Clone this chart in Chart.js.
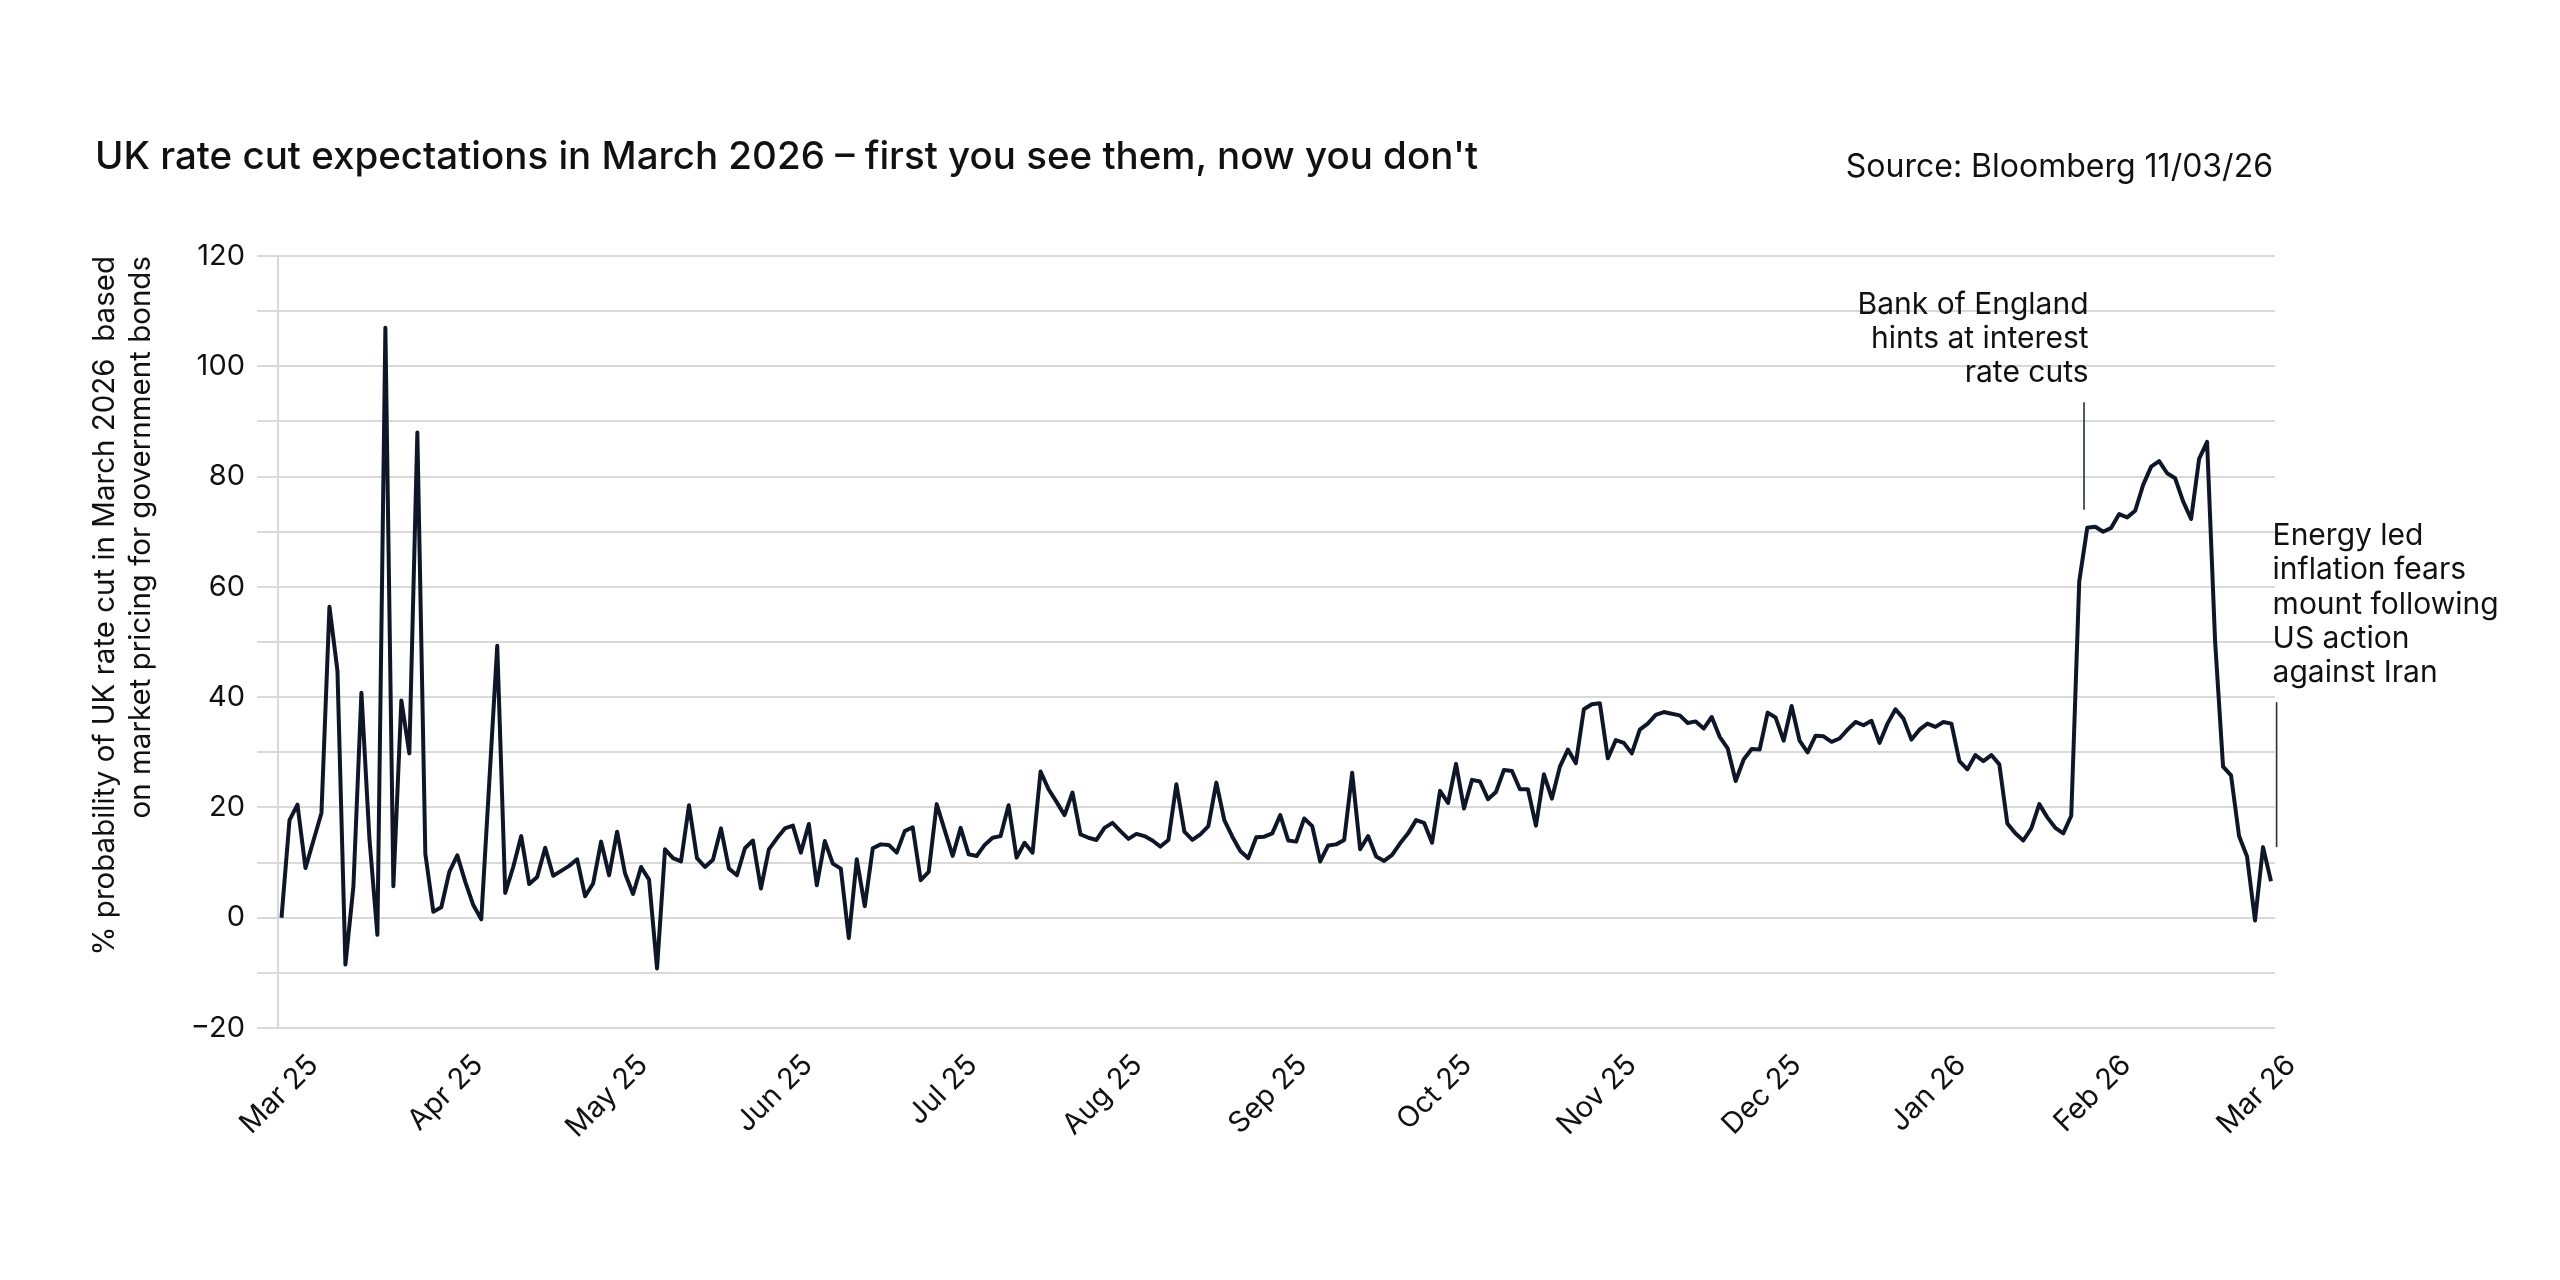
<!DOCTYPE html>
<html>
<head>
<meta charset="utf-8">
<script src="https://cdn.jsdelivr.net/npm/chart.js@4.4.1/dist/chart.umd.min.js"></script>
<style>
  html, body { margin: 0; padding: 0; background: #ffffff; }
  #wrap { position: relative; width: 2560px; height: 1280px; overflow: hidden; }
  #chart { position: absolute; left: 0; top: 0; }
  #title { position: absolute; left: 95px; top: 133px; font-family: Inter, sans-serif; font-weight: 500; font-size: 38.5px; color: #111111; white-space: nowrap; line-height: 44px; }
  #source { position: absolute; right: 287px; top: 147px; font-family: Inter, sans-serif; font-weight: 400; font-size: 32px; color: #111111; white-space: nowrap; line-height: 38px; }
</style>
</head>
<body>
<div id="wrap">
  <canvas id="chart" width="2560" height="1280"></canvas>
  <div id="title">UK rate cut expectations in March 2026 – first you see them, now you don't</div>
  <div id="source">Source: Bloomberg 11/03/26</div>
</div>
<script>
// ---- data ----
const monthLabels = ['Mar 25','Apr 25','May 25','Jun 25','Jul 25','Aug 25','Sep 25','Oct 25','Nov 25','Dec 25','Jan 26','Feb 26','Mar 26'];

const probability = [
  0, 17.7, 20.5, 9, 14, 19, 56.4, 44.8, -8.5, 5.7,
  40.8, 14.4, -3.1, 107, 5.7, 39.4, 29.8, 88, 11.6, 1.1,
  1.9, 8.3, 11.3, 6.5, 2.3, -0.3, 24.5, 49.3, 4.5, 9.2,
  14.8, 6.1, 7.4, 12.7, 7.6, 8.5, 9.4, 10.6, 3.9, 6.2,
  13.8, 7.7, 15.6, 8.0, 4.3, 9.2, 6.9, -9.2, 12.4, 10.8,
  10.2, 20.4, 10.8, 9.2, 10.5, 16.2, 8.9, 7.7, 12.6, 14.0,
  5.3, 12.4, 14.4, 16.2, 16.7, 11.8, 17.0, 5.9, 13.9, 9.8,
  8.9, -3.7, 10.6, 2.1, 12.6, 13.3, 13.2, 11.8, 15.7, 16.4,
  6.8, 8.3, 20.6, 15.9, 11.2, 16.3, 11.5, 11.2, 13.2, 14.5,
  14.8, 20.4, 10.9, 13.6, 11.8, 26.5, 23.3, 21.0, 18.6, 22.7,
  15.1, 14.5, 14.1, 16.3, 17.2, 15.7, 14.3, 15.2, 14.8, 14.0,
  12.9, 14.1, 24.2, 15.6, 14.1, 15.1, 16.6, 24.5, 17.7, 14.7,
  12.1, 10.8, 14.6, 14.7, 15.3, 18.6, 14.0, 13.8, 18.0, 16.6,
  10.2, 13.1, 13.3, 14.1, 26.3, 12.4, 14.8, 11.1, 10.3, 11.4,
  13.5, 15.3, 17.7, 17.2, 13.6, 23.0, 20.8, 27.9, 19.8, 25.0,
  24.7, 21.5, 22.8, 26.8, 26.6, 23.3, 23.3, 16.7, 26.0, 21.6,
  27.4, 30.5, 28.0, 37.8, 38.7, 38.9, 28.9, 32.2, 31.7, 29.8,
  34.1, 35.2, 36.8, 37.3, 37.0, 36.7, 35.3, 35.6, 34.3, 36.4,
  32.8, 30.7, 24.8, 28.7, 30.6, 30.5, 37.2, 36.3, 32.1, 38.4,
  32.1, 30.0, 33.0, 32.9, 31.9, 32.5, 34.1, 35.5, 34.9, 35.7,
  31.7, 35.2, 37.8, 36.1, 32.3, 34.1, 35.2, 34.6, 35.5, 35.2,
  28.4, 26.9, 29.5, 28.4, 29.5, 27.8, 17.1, 15.3, 14.0, 16.2,
  20.6, 18.2, 16.3, 15.3, 18.5, 61.0, 70.7, 70.9, 70.0, 70.7,
  73.2, 72.6, 73.8, 78.5, 81.8, 82.8, 80.6, 79.7, 75.5, 72.3,
  83.2, 86.3, 50.2, 27.4, 25.8, 14.8, 11.1, -0.5, 12.8, 6.6
];

const yAxisTitle = ['% probability of UK rate cut in March 2026  based', 'on market pricing for government bonds'];

const notes = [
  { lines: ['Bank of England', 'hints at interest', 'rate cuts'], x: 225.6, yTop: 93.5, yBottom: 74, align: 'right', dx: 4.5, dy: -88.6 },
  { lines: ['Energy led', 'inflation fears', 'mount following', 'US action', 'against Iran'], x: 249.7, yTop: 39.1, yBottom: 12.8, align: 'left', dx: -4, dy: -157 }
];

// ---- layout helpers (not data) ----
const X_MIN = -0.44, X_MAX = 249.5;
const FIRST_TICK = 2.0;
const monthTickPos = monthLabels.map((_, k) => FIRST_TICK + k * (X_MAX - FIRST_TICK) / (monthLabels.length - 1));

const FONT = 'Inter';
const INK = '#0e1628';
const GRID = '#d9d9d9';

const notesPlugin = {
  id: 'notes',
  afterDraw(chart) {
    const { ctx, scales: { x, y } } = chart;
    ctx.save();
    notes.forEach(n => {
      const px = x.getPixelForValue(n.x);
      const y1 = y.getPixelForValue(n.yTop);
      const y2 = y.getPixelForValue(n.yBottom);
      ctx.strokeStyle = '#2a2f3a';
      ctx.lineWidth = 1.6;
      ctx.beginPath();
      ctx.moveTo(px, y1);
      ctx.lineTo(px, y2);
      ctx.stroke();
      ctx.font = '400 30px ' + FONT;
      ctx.fillStyle = '#111111';
      ctx.textAlign = n.align;
      ctx.textBaseline = 'alphabetic';
      n.lines.forEach((t, k) => ctx.fillText(t, px + n.dx, y1 + n.dy + k * 34.3));
    });
    ctx.restore();
  }
};

new Chart(document.getElementById('chart'), {
  type: 'line',
  data: {
    datasets: [{
      data: probability.map((v, i) => ({ x: i, y: v })),
      borderColor: INK,
      borderWidth: 4,
      pointRadius: 0,
      tension: 0,
      fill: false,
      borderJoinStyle: 'round'
    }]
  },
  options: {
    responsive: false,
    animation: false,
    devicePixelRatio: 1,
    layout: { padding: { top: 256, left: 88, right: 285, bottom: 102 } },
    plugins: { legend: { display: false }, tooltip: { enabled: false } },
    scales: {
      x: {
        type: 'linear',
        min: X_MIN,
        max: X_MAX,
        afterBuildTicks(scale) { scale.ticks = monthTickPos.map(v => ({ value: v })); },
        afterFit(scale) { scale.height = 150; },
        grid: { display: false },
        border: { display: false },
        ticks: {
          autoSkip: false,
          maxRotation: 45,
          minRotation: 45,
          padding: 12,
          labelOffset: 16,
          color: '#111111',
          font: { family: FONT, size: 29 },
          callback: (v, idx) => monthLabels[idx]
        }
      },
      y: {
        min: -20,
        max: 120,
        afterFit(scale) { scale.width = 190; },
        grid: { color: GRID, lineWidth: 2, tickLength: 21, drawTicks: true },
        border: { display: true, color: GRID, width: 2 },
        ticks: {
          stepSize: 10,
          padding: 12,
          color: '#111111',
          font: { family: FONT, size: 29 },
          callback: v => (v % 20 === 0 ? (v < 0 ? '\u2212' + Math.abs(v) : String(v)) : '')
        },
        title: {
          display: true,
          text: yAxisTitle,
          align: 'end',
          color: '#111111',
          font: { family: FONT, size: 29.5, lineHeight: 1.19 },
          padding: { top: 0, bottom: 10 }
        }
      }
    }
  },
  plugins: [notesPlugin]
});
</script>
</body>
</html>
